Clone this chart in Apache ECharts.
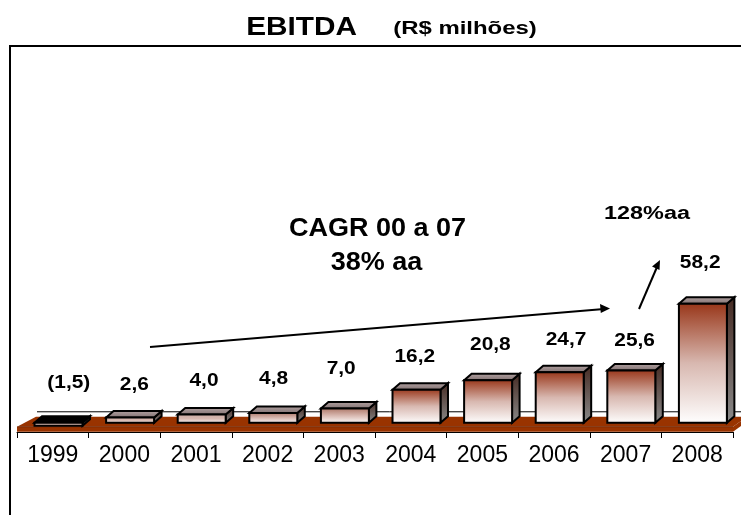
<!DOCTYPE html>
<html><head><meta charset="utf-8">
<style>html,body{margin:0;padding:0;background:#fff}#c{width:741px;height:515px}</style>
<script src="https://cdn.jsdelivr.net/npm/echarts@6/dist/echarts.min.js"></script>
</head><body><div id="c"></div>
<script>
const years = ['1999','2000','2001','2002','2003','2004','2005','2006','2007','2008'];
const ebitda = [-1.5,2.6,4.0,4.8,7.0,16.2,20.8,24.7,25.6,58.2];
const valueLabels = ['(1,5)','2,6','4,0','4,8','7,0','16,2','20,8','24,7','25,6','58,2'];
const labelDx = [16,10,8,6,2,4,8,12,9,3];
const labelDy = [-40,-33,-34,-34,-40,-33,-35,-32,-30,-41];

const FONT = '"Liberation Sans", Arial, sans-serif';
const chart = echarts.init(document.getElementById('c'), null, {renderer:'canvas'});
const grad = (stops) => new echarts.graphic.LinearGradient(0,0,0,1,stops.map((c,i)=>({offset:i/(stops.length-1),color:c})));

function poly(points, fill, lw){
  return {type:'polygon',shape:{points},style:{fill,stroke:'#000',lineWidth:lw,lineJoin:'miter'}};
}
function renderBar(params, api){
  const i = api.value(0), v = api.value(1);
  const [cx, y0] = api.coord([i,0]);
  const yv = api.coord([i,v])[1];
  const w = api.size([1,0])[0]*0.67;
  const x0 = cx + 5.7 - w/2, x1 = x0 + w;
  const dx = 7.5, dy = 6.5, lw = 2;
  const top = Math.min(y0,yv), bot = Math.max(y0,yv);
  const tall = Math.min(1,(bot-top)/32);
  const startCol = tall>0.9 ? '#983518' : (tall>0.3 ? '#a87060' : '#c8a8a0');
  const kids = [
    poly([[x1,top],[x1+dx,top-dy],[x1+dx,bot-dy],[x1,bot]], grad(['#452a22','#8a8a8a']), lw),
    poly([[x0,top],[x0+dx,top-dy],[x1+dx,top-dy],[x1,top]], v<0?'#000':grad(['#b5a5a5','#7e6e6e']), lw),
    poly([[x0,top],[x1,top],[x1,bot],[x0,bot]], grad([startCol,'#d8b8b0','#ffffff']), lw)
  ];
  const ref = Math.min(top,y0);
  kids.push({type:'text',x:cx+labelDx[i],y:ref+labelDy[i],scaleX:1.1,
    style:{text:valueLabels[i],font:'bold 19px '+FONT,fill:'#000',align:'center',verticalAlign:'middle'}});
  return {type:'group',children:kids};
}
function renderFloor(params, api){
  const a = api.coord([0,0]), b = api.coord([9,0]), s = api.size([1,0])[0];
  const L = a[0]-s/2, R = b[0]+s/2, y0 = a[1];
  const back = y0-6, front = y0+4, base = y0+9;
  return {type:'group',children:[
    {type:'line',shape:{x1:L+20,y1:back-5,x2:R+10,y2:back-5},style:{stroke:'#000',lineWidth:1}},
    {type:'polygon',shape:{points:[[L,front],[L+19,back],[R+14,back],[R,front]]},style:{fill:'#993300'}},
    {type:'polygon',shape:{points:[[L,front],[R,front],[R,base],[L,base]]},style:{fill:'#993300'}},
    {type:'polygon',shape:{points:[[R,front],[R+14,back],[R+14,back+5],[R,base]]},style:{fill:'#993300'}},
    {type:'line',shape:{x1:L,y1:front,x2:R,y2:front},style:{stroke:'#5a2000',lineWidth:0.6}}
  ]};
}
chart.setOption({
  animation:false,
  grid:{left:17,right:8,top:300,bottom:83,containLabel:false},
  xAxis:{type:'category',data:years,z:5,
    axisLine:{show:true,onZero:false,lineStyle:{color:'#000',width:1}},
    axisTick:{show:true,length:6,lineStyle:{color:'#000',width:1}},
    axisLabel:{color:'#000',fontFamily:FONT,fontSize:23,margin:12,interval:0}},
  yAxis:{type:'value',min:-4.5,max:60,show:false},
  series:[
    {type:'custom',clip:false,silent:true,z:1,data:[[0,0]],renderItem:renderFloor,encode:{x:0,y:1}},
    {type:'custom',clip:false,silent:true,z:3,data:ebitda.map((v,i)=>[i,v]),renderItem:renderBar,encode:{x:0,y:1}}
  ],
  graphic:[
    {type:'polyline',shape:{points:[[10,515],[10,46],[741,46]]},style:{stroke:'#000',lineWidth:2,fill:null}},
    {type:'text',x:301.5,y:28,scaleX:1.19,style:{text:'EBITDA',font:'bold 25px '+FONT,fill:'#000',align:'center',verticalAlign:'middle'}},
    {type:'text',x:465,y:29,scaleX:1.26,style:{text:'(R$ milhões)',font:'bold 19px '+FONT,fill:'#000',align:'center',verticalAlign:'middle'}},
    {type:'text',x:377.5,y:229,scaleX:1.08,style:{text:'CAGR 00 a 07',font:'bold 25px '+FONT,fill:'#000',align:'center',verticalAlign:'middle'}},
    {type:'text',x:376.5,y:263,scaleX:1.08,style:{text:'38% aa',font:'bold 25px '+FONT,fill:'#000',align:'center',verticalAlign:'middle'}},
    {type:'text',x:647,y:214,scaleX:1.3,style:{text:'128%aa',font:'bold 18px '+FONT,fill:'#000',align:'center',verticalAlign:'middle'}},
    {type:'line',shape:{x1:150,y1:347,x2:604,y2:309},style:{stroke:'#000',lineWidth:2}},
    {type:'polygon',shape:{points:[[610,308.5],[600,304],[600.8,313]]},style:{fill:'#000'}},
    {type:'line',shape:{x1:639,y1:309,x2:657,y2:267},style:{stroke:'#000',lineWidth:2}},
    {type:'polygon',shape:{points:[[660,260],[652,266.5],[659.5,270]]},style:{fill:'#000'}}
  ]
});
</script></body></html>
